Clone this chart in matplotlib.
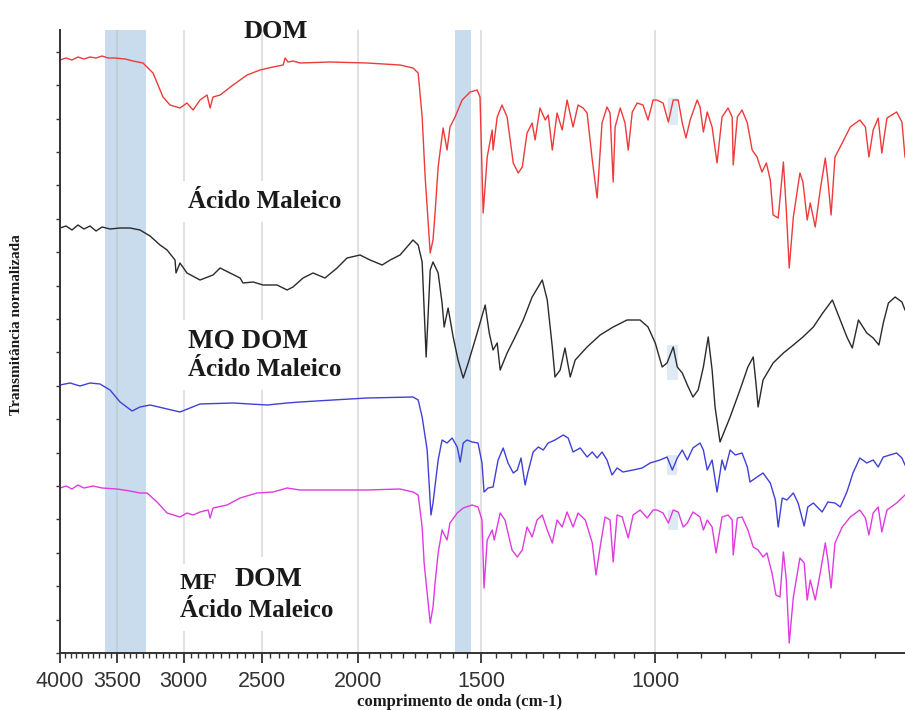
import matplotlib.pyplot as plt
from matplotlib.ticker import FixedLocator, NullFormatter

# FTIR spectra: wavenumber (cm-1) and normalised transmittance, stacked with offsets
dom_wn = [4000, 3944, 3890, 3836, 3783, 3730, 3678, 3627, 3577, 3519, 3438, 3374, 3297, 3221, 3147,
          3096, 3025, 2976, 2934, 2887, 2840, 2820, 2801, 2755, 2673, 2587, 2510, 2435, 2379, 2368,
          2352, 2325, 2287, 2133, 1956, 1812, 1758, 1737, 1721, 1709, 1689, 1678, 1670, 1658, 1639,
          1624, 1613, 1594, 1568, 1539, 1514, 1504, 1493, 1479, 1462, 1459, 1445, 1429, 1412, 1392,
          1376, 1363, 1348, 1332, 1323, 1308, 1292, 1283, 1271, 1257, 1242, 1228, 1211, 1197, 1183,
          1172, 1158, 1145, 1132, 1119, 1111, 1103, 1098, 1085, 1073, 1065, 1055, 1043, 1029, 1017,
          1005, 996, 982, 970, 959, 948, 939, 931, 922, 907, 901, 894, 886, 876, 866,
          856, 844, 836, 834, 826, 817, 807, 798, 789, 780, 772, 765, 760, 751, 742,
          737, 732, 725, 714, 709, 702, 697, 689, 681, 673, 669, 664, 658, 647, 635,
          621, 613, 608, 602, 595, 590, 583, 570, 563, 559]
dom_t = [59.3, 59.5, 59.3, 59.6, 59.4, 59.6, 59.5, 59.7, 59.5, 59.5, 59.4, 59.2, 59.0, 58.0, 55.6,
         54.8, 54.5, 55.0, 54.3, 55.3, 55.8, 54.5, 55.6, 55.8, 56.8, 57.8, 58.3, 58.6, 58.8, 59.5,
         59.1, 59.2, 59.0, 59.1, 59.0, 58.8, 58.5, 58.0, 53.6, 47.6, 40.0, 41.3, 44.0, 48.6, 52.5,
         50.3, 52.6, 53.6, 55.3, 56.1, 56.3, 55.6, 44.0, 49.6, 52.3, 50.3, 53.6, 54.8, 53.6, 49.0,
         48.0, 48.6, 52.0, 53.0, 51.3, 54.5, 53.3, 53.8, 50.3, 54.0, 52.3, 55.3, 52.6, 54.8, 54.5,
         54.0, 49.3, 45.5, 53.0, 54.6, 54.0, 47.1, 52.6, 54.5, 53.0, 50.3, 54.1, 55.0, 54.8, 53.3,
         55.3, 55.3, 55.0, 53.1, 55.3, 55.3, 53.0, 51.5, 53.3, 55.3, 54.6, 52.1, 54.1, 52.6, 49.0,
         53.6, 54.5, 53.6, 48.8, 53.6, 54.3, 53.0, 50.3, 49.6, 48.1, 49.0, 47.3, 43.8, 43.5, 49.1,
         44.3, 38.5, 43.6, 48.0, 47.1, 43.3, 45.0, 42.6, 46.3, 49.5, 47.3, 43.8, 49.6, 51.0, 52.6,
         53.3, 52.6, 49.6, 52.3, 53.5, 50.0, 53.5, 54.1, 53.1, 49.6]

mal_wn = [4000, 3944, 3890, 3836, 3783, 3730, 3678, 3627, 3560, 3478, 3398, 3320, 3243, 3169, 3117,
          3060, 3053, 3025, 2976, 2887, 2801, 2755, 2692, 2630, 2612, 2551, 2493, 2413, 2357, 2325,
          2271, 2219, 2158, 2098, 2050, 1989, 1943, 1889, 1854, 1812, 1758, 1737, 1721, 1705, 1689,
          1678, 1658, 1643, 1635, 1620, 1601, 1583, 1564, 1546, 1514, 1486, 1472, 1459, 1445, 1435,
          1412, 1386, 1360, 1332, 1301, 1286, 1271, 1263, 1248, 1234, 1219, 1205, 1172, 1137, 1103,
          1068, 1036, 1017, 1000, 984, 973, 959, 950, 939, 928, 916, 905, 894, 884, 876,
          870, 860, 840, 821, 806, 796, 791, 787, 778, 760, 742, 725, 709, 692, 677,
          662, 650, 640, 632, 623, 611, 602, 594, 588, 581, 572, 563, 559]
mal_t = [42.5, 42.7, 42.3, 42.8, 42.4, 42.7, 42.2, 42.6, 42.4, 42.5, 42.5, 42.3, 41.7, 40.8, 40.3,
         39.3, 38.0, 39.0, 38.0, 37.3, 37.8, 38.5, 38.0, 37.5, 37.0, 37.1, 36.8, 36.8, 36.3, 36.6,
         37.5, 38.0, 37.5, 38.5, 39.5, 39.8, 39.3, 38.8, 39.3, 39.8, 41.3, 40.8, 39.1, 29.6, 38.3,
         39.1, 38.0, 35.0, 32.6, 34.5, 31.6, 29.3, 27.5, 29.0, 32.0, 34.8, 32.0, 30.3, 31.0, 28.3,
         30.0, 31.6, 33.3, 35.6, 37.3, 35.3, 30.6, 27.6, 28.3, 30.5, 27.6, 29.3, 30.6, 31.8, 32.6,
         33.3, 33.3, 32.6, 31.0, 28.6, 29.0, 30.6, 28.6, 28.0, 26.8, 25.6, 26.3, 28.6, 31.6, 28.3,
         24.6, 21.1, 23.6, 26.3, 28.6, 29.6, 27.0, 24.6, 27.3, 29.0, 30.0, 30.8, 31.6, 32.6, 34.0,
         35.3, 33.3, 31.6, 30.5, 33.3, 32.0, 31.5, 30.8, 33.0, 35.0, 35.6, 35.1, 34.3]

mq_wn = [4000, 3908, 3818, 3730, 3644, 3560, 3478, 3382, 3320, 3243, 3147, 3025, 2887, 2673, 2470,
         2357, 2287, 2118, 1956, 1758, 1737, 1721, 1701, 1686, 1678, 1658, 1643, 1624, 1605, 1586,
         1575, 1564, 1550, 1532, 1511, 1497, 1490, 1476, 1459, 1442, 1425, 1409, 1392, 1379, 1367,
         1354, 1345, 1329, 1313, 1298, 1283, 1263, 1239, 1225, 1211, 1191, 1172, 1158, 1145, 1132,
         1119, 1106, 1093, 1078, 1053, 1031, 1012, 989, 973, 961, 950, 939, 928, 916, 901,
         894, 886, 876, 866, 856, 850, 840, 830, 817, 807, 802, 789, 778, 765, 756,
         751, 744, 736, 725, 717, 707, 701, 692, 678, 669, 658, 650, 640, 631, 621,
         611, 602, 595, 588, 579, 570, 563, 559]
mq_t = [26.8, 27.0, 26.7, 27.0, 26.9, 26.3, 25.1, 24.2, 24.6, 24.8, 24.5, 24.1, 24.9, 25.0, 24.8,
        25.0, 25.1, 25.3, 25.5, 25.6, 25.3, 23.6, 20.3, 13.8, 15.0, 19.3, 21.3, 21.0, 21.5, 20.6,
        19.1, 21.0, 21.3, 21.1, 21.0, 19.0, 16.1, 16.5, 16.6, 19.3, 20.5, 19.0, 18.0, 18.3, 19.5,
        16.8, 18.1, 20.1, 20.6, 20.3, 21.0, 21.3, 21.8, 21.5, 20.1, 20.5, 19.6, 20.1, 19.5, 20.1,
        19.3, 17.8, 18.5, 18.1, 18.3, 18.5, 19.0, 19.3, 19.6, 18.3, 19.5, 20.3, 19.3, 20.5, 21.0,
        20.3, 18.3, 19.3, 16.1, 19.3, 18.3, 20.3, 19.8, 20.0, 18.6, 17.1, 17.6, 18.0, 17.0, 15.3,
        12.6, 15.5, 15.3, 16.0, 15.0, 12.7, 14.6, 15.0, 14.1, 15.1, 15.0, 14.6, 16.1, 18.0, 19.5,
        19.0, 19.3, 18.6, 19.6, 19.8, 20.0, 19.5, 18.8]

mf_wn = [4000, 3944, 3890, 3836, 3783, 3704, 3627, 3503, 3398, 3320, 3266, 3191, 3117, 3025, 2976,
         2934, 2887, 2833, 2820, 2801, 2711, 2630, 2528, 2435, 2357, 2287, 2118, 1956, 1812, 1758,
         1737, 1721, 1713, 1689, 1678, 1670, 1658, 1643, 1624, 1613, 1586, 1564, 1532, 1511, 1497,
         1490, 1479, 1462, 1455, 1435, 1419, 1396, 1379, 1363, 1348, 1332, 1317, 1301, 1286, 1271,
         1257, 1242, 1228, 1211, 1197, 1177, 1158, 1148, 1137, 1124, 1111, 1103, 1093, 1080, 1065,
         1053, 1036, 1019, 1005, 996, 982, 970, 959, 948, 937, 928, 916, 901, 894, 886,
         876, 868, 856, 844, 836, 834, 826, 817, 806, 796, 787, 778, 771, 762, 755,
         748, 742, 737, 732, 725, 714, 707, 702, 697, 689, 681, 673, 669, 664, 658,
         647, 635, 621, 613, 608, 602, 595, 590, 583, 570, 563, 559]
mf_t = [16.5, 16.7, 16.4, 16.8, 16.5, 16.7, 16.5, 16.4, 16.2, 16.0, 16.0, 15.1, 14.0, 13.6, 14.0,
        13.8, 14.1, 14.3, 13.5, 14.5, 14.8, 15.5, 16.0, 16.1, 16.5, 16.3, 16.3, 16.3, 16.4, 16.1,
        15.8, 12.6, 9.0, 3.0, 4.6, 7.0, 10.0, 12.3, 11.3, 13.0, 14.0, 14.5, 14.8, 14.6, 13.3,
        6.5, 11.3, 12.3, 11.3, 14.0, 13.3, 10.3, 9.6, 10.3, 12.6, 11.6, 13.3, 13.8, 12.3, 11.0,
        13.3, 12.6, 14.1, 12.6, 14.0, 13.3, 11.0, 7.8, 10.6, 13.6, 13.3, 9.1, 13.8, 13.6, 11.5,
        13.8, 14.3, 13.5, 14.3, 14.3, 14.0, 13.0, 14.3, 14.1, 12.6, 13.0, 14.1, 13.6, 12.3, 13.3,
        12.6, 10.0, 13.6, 13.8, 13.3, 9.8, 13.5, 13.6, 12.3, 10.6, 10.3, 9.6, 10.0, 8.0, 5.8,
        5.6, 10.1, 7.3, 1.0, 5.6, 9.5, 9.0, 5.3, 7.3, 5.3, 8.0, 11.0, 9.3, 6.5, 11.0,
        12.6, 13.6, 14.3, 13.5, 11.8, 14.0, 14.6, 12.1, 14.3, 15.0, 15.5, 15.8]

major_wn = [4000, 3500, 3000, 2500, 2000, 1500, 1000]
major_labels = ['4000', '3500', '3000', '2500', '2000', '1500', '1000']
minor_wn = list(range(600, 4000, 50))
grid_wn = [3500, 3000, 2500, 2000, 1500, 1000]
bands = [(3605, 3277), (1594, 1535)]
# small marked spots around 960 cm-1 on each trace: (wn_hi, wn_lo, t_lo, t_hi)
spots = [(970, 948, 52.8, 55.5), (972, 948, 27.3, 30.8), (972, 950, 17.8, 19.8), (970, 948, 12.3, 14.3)]
y_ticks = [i * 3.34 for i in range(19)]
y_top = 62.3

fig = plt.figure(figsize=(9.05, 7.10), dpi=100)
ax = fig.add_axes([60 / 905, 57 / 710, 845 / 905, 623 / 710])

for lo, hi in bands:
    ax.axvspan(lo, hi, color='#c8dcee', lw=0, zorder=0)
for hi, lo, t0, t1 in spots:
    ax.axvspan(hi, lo, ymin=t0 / y_top, ymax=t1 / y_top, color='#c8dcee', alpha=0.6, lw=0, zorder=0)
for g in grid_wn:
    ax.axvline(g, color='#b9b9b9', lw=1.1, alpha=0.55, zorder=0.5)

ax.plot(dom_wn, dom_t, color='#ee3a3a', lw=1.0, zorder=2)
ax.plot(mal_wn, mal_t, color='#2a2a2a', lw=1.0, zorder=2)
ax.plot(mq_wn, mq_t, color='#4040d6', lw=1.0, zorder=2)
ax.plot(mf_wn, mf_t, color='#e03ae0', lw=1.0, zorder=2)

ax.set_xscale('log')
ax.set_xlim(4000, 559)
ax.set_ylim(0, y_top)
ax.xaxis.set_major_locator(FixedLocator(major_wn))
ax.set_xticklabels(major_labels)
ax.xaxis.set_minor_locator(FixedLocator(minor_wn))
ax.xaxis.set_minor_formatter(NullFormatter())
ax.set_yticks(y_ticks)
ax.set_yticklabels([])

for side in ['top', 'right']:
    ax.spines[side].set_visible(False)
for side in ['left', 'bottom']:
    ax.spines[side].set_color('#333333')
    ax.spines[side].set_linewidth(1.4)

ax.tick_params(axis='x', which='major', direction='out', length=7, width=1.3,
               color='#333333', labelsize=15.5, labelcolor='#333333', pad=6)
ax.tick_params(axis='x', which='minor', direction='out', length=3.5, width=1.0, color='#333333')
ax.tick_params(axis='y', which='major', direction='out', length=3, width=1.0, color='#333333')
for lab in ax.get_xticklabels():
    lab.set_fontfamily('Liberation Sans')

serif = 'Liberation Serif'
box = dict(facecolor='white', edgecolor='none', boxstyle='square,pad=0.35')

fig.text(276 / 905, 1 - 38 / 710, 'DOM', family=serif, weight='bold', fontsize=19,
         ha='center', va='baseline', color='#1a1a1a')
fig.text(188 / 905, 1 - 208 / 710, 'Ácido Maleico', family=serif, weight='bold',
         fontsize=18, ha='left', va='baseline', color='#1a1a1a', bbox=box, zorder=3)
fig.text(188 / 905, 1 - 348 / 710, 'MQ DOM', family=serif, weight='bold', fontsize=19.5,
         ha='left', va='baseline', color='#1a1a1a', bbox=box, zorder=3)
fig.text(188 / 905, 1 - 376 / 710, 'Ácido Maleico', family=serif, weight='bold',
         fontsize=18, ha='left', va='baseline', color='#1a1a1a', bbox=box, zorder=3)
fig.text(180 / 905, 1 - 589 / 710, 'MF', family=serif, weight='bold', fontsize=17.5,
         ha='left', va='baseline', color='#1a1a1a', bbox=box, zorder=3)
fig.text(235 / 905, 1 - 586 / 710, 'DOM', family=serif, weight='bold', fontsize=20,
         ha='left', va='baseline', color='#1a1a1a', bbox=box, zorder=3)
fig.text(180 / 905, 1 - 617 / 710, 'Ácido Maleico', family=serif, weight='bold',
         fontsize=18, ha='left', va='baseline', color='#1a1a1a', bbox=box, zorder=3)

fig.text(460 / 905, 1 - 706 / 710, 'comprimento de onda (cm-1)', family=serif,
         weight='bold', fontsize=12, ha='center', va='baseline', color='#1a1a1a')
fig.text(17 / 905, 1 - 325 / 710, 'Transmitância normalizada', family=serif,
         weight='bold', fontsize=11, rotation=90, ha='center', va='center', color='#1a1a1a')

fig.savefig('out.png', dpi=100)
